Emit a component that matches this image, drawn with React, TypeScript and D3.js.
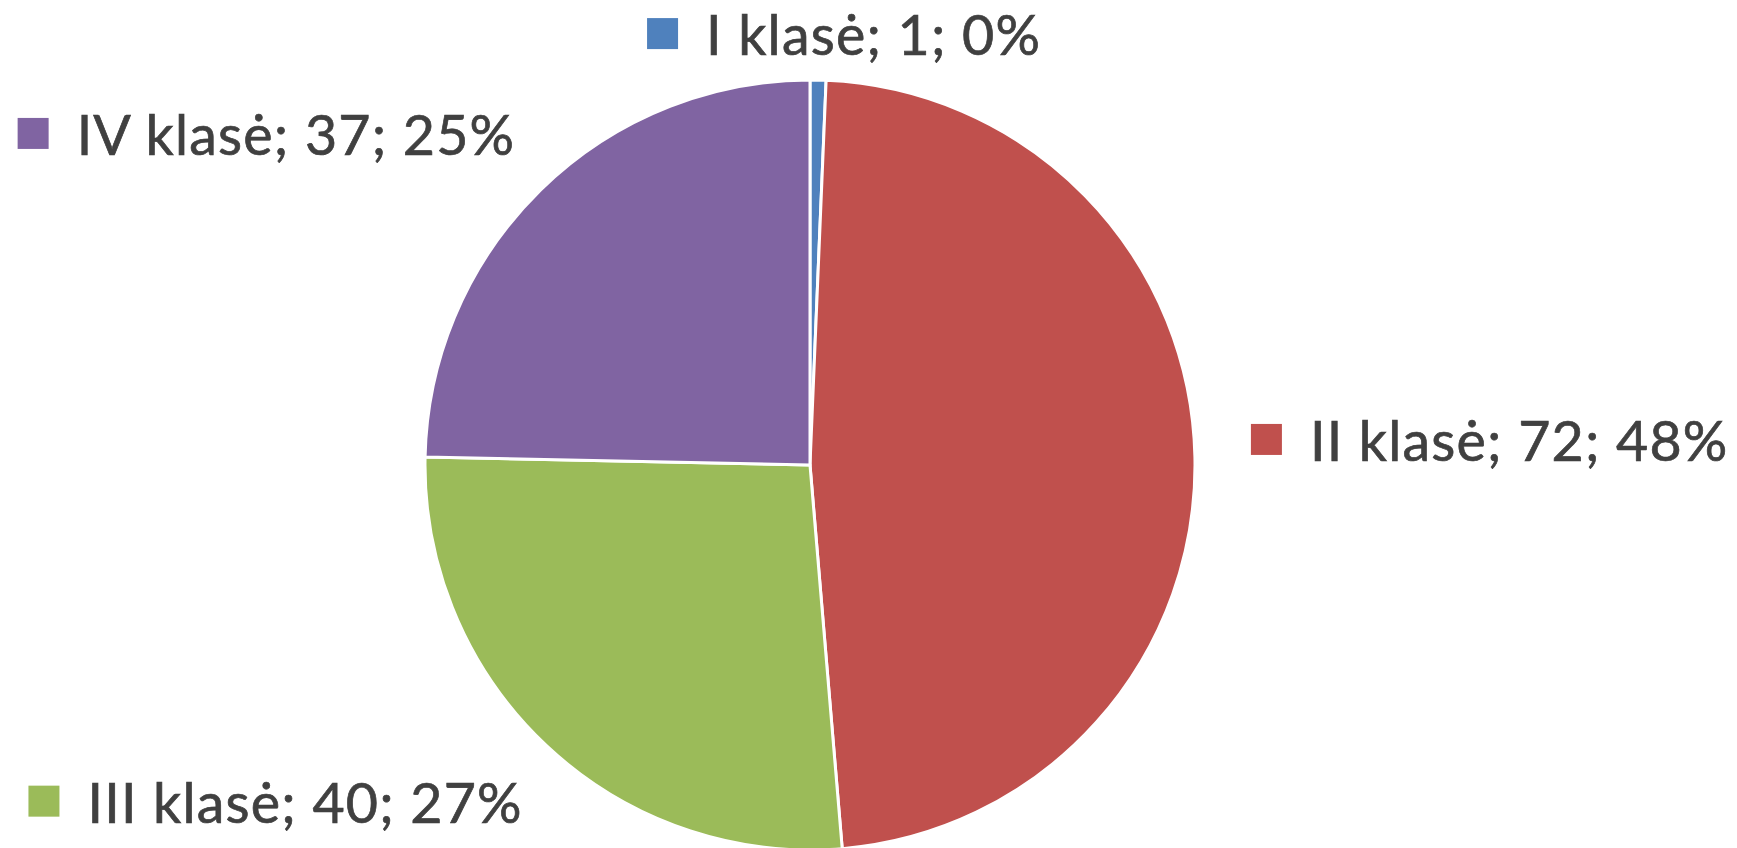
import React from "react";
import * as d3 from "d3";

// pie data
const categories = ["I klasė", "II klasė", "III klasė", "IV klasė"];
const counts = [1, 72, 40, 37];
const percentLabels = ["0%", "48%", "27%", "25%"];
const colors = ["#4F81BD", "#C0504D", "#9BBB59", "#8064A2"];

// where each label block sits relative to the slice's outer mid point
const labelOffsets = [
  [-171, -25],
  [56, 4],
  [-518, 77],
  [-523, -35],
];

const W = 1737;
const H = 848;
const cx = 810;
const cy = 465;
const radius = 385;

const App = () => {
  const pie = d3
    .pie<number>()
    .sort(null)
    .value((d) => d);
  const arcs = pie(counts);

  const arc = d3
    .arc<d3.PieArcDatum<number>>()
    .innerRadius(0)
    .outerRadius(radius);

  const outerPoint = (d: d3.PieArcDatum<number>) => {
    const a = (d.startAngle + d.endAngle) / 2;
    return [Math.sin(a) * radius, -Math.cos(a) * radius];
  };

  return (
    <svg
      width={W}
      height={H}
      style={{ position: "absolute", left: 0, top: 0, background: "#fff" }}
    >
      <g transform={`translate(${cx},${cy})`}>
        {arcs.map((d, i) => (
          <path
            key={categories[i]}
            d={arc(d) || ""}
            fill={colors[i]}
            stroke="#fff"
            strokeWidth={3}
            strokeLinejoin="round"
          />
        ))}
        {arcs.map((d, i) => {
          const [px, py] = outerPoint(d);
          const [dx, dy] = labelOffsets[i];
          return (
            <g key={"lbl" + i} transform={`translate(${px + dx},${py + dy})`}>
              <rect x={0} y={-37} width={31} height={31} fill={colors[i]} />
              <text
                x={59}
                y={0}
                fill="#404040"
                stroke="#404040"
                strokeWidth={0.7}
                fontFamily="Lato, 'Open Sans', sans-serif"
                fontSize={55.5}
                letterSpacing={1.2}
              >
                {`${categories[i]}; ${counts[i]}; ${percentLabels[i]}`}
              </text>
            </g>
          );
        })}
      </g>
    </svg>
  );
};

export default App;
